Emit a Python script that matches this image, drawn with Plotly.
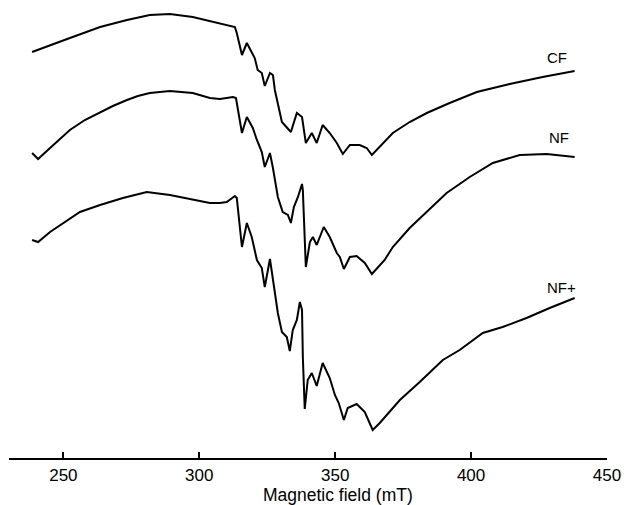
import plotly.graph_objects as go

# Magnetic field (mT) and EPR signal (arbitrary units, offset per spectrum)
cf_field = [238.5, 245.1, 252.4, 263.5, 273.4, 281.8, 289.2, 297.6, 303.9, 309.4,
            313.1, 313.8, 315.7, 317.5, 320.4, 321.5, 323.0, 324.1, 326.0, 327.1,
            327.8, 330.4, 332.2, 333.7, 335.9, 337.8, 339.2, 341.4, 343.2, 345.4,
            348.0, 350.6, 352.8, 355.4, 359.0, 361.6, 363.5, 371.2, 377.4, 383.7,
            392.1, 402.1, 414.2, 426.3, 438.1]
cf_signal = [406, 413, 420, 431, 438, 443, 444, 441, 437, 433,
             431, 425, 403, 415, 400, 388, 385, 372, 385, 383,
             368, 336, 331, 326, 345, 341, 315, 325, 315, 333,
             325, 315, 304, 313, 313, 310, 303, 325, 336, 345,
             355, 366, 374, 381, 387]

nf_field = [238.5, 240.7, 245.1, 248.8, 252.4, 257.9, 263.5, 268.2, 273.4, 277.4,
            281.8, 289.2, 297.6, 303.9, 307.6, 312.4, 313.5, 315.7, 317.5, 319.7,
            321.2, 323.0, 324.1, 326.0, 327.1, 328.2, 328.9, 330.7, 332.6, 333.7,
            334.8, 336.3, 337.8, 338.1, 339.2, 340.7, 341.8, 343.2, 345.8, 348.0,
            350.6, 351.7, 353.2, 355.4, 357.9, 360.9, 363.5, 368.2, 371.2, 377.4,
            383.7, 391.0, 399.5, 408.0, 417.9, 427.8, 438.1]
nf_signal = [305, 299, 310, 319, 328, 338, 346, 352, 358, 362,
             365, 367, 365, 360, 359, 361, 360, 325, 341, 330,
             318, 306, 291, 305, 290, 273, 261, 246, 243, 235,
             251, 261, 274, 268, 191, 216, 221, 213, 231, 221,
             205, 201, 189, 201, 202, 195, 184, 198, 211, 230,
             246, 265, 281, 295, 303, 304, 301]

nfp_field = [238.5, 240.7, 245.1, 250.6, 256.1, 263.5, 271.9, 280.7, 289.2, 303.9,
             307.6, 310.1, 313.1, 313.8, 315.7, 317.5, 319.3, 321.2, 323.0, 324.1,
             326.0, 327.4, 328.9, 330.4, 332.2, 333.3, 334.4, 335.9, 337.0, 337.8,
             338.1, 338.8, 339.9, 341.4, 343.2, 345.4, 348.0, 349.9, 351.3, 353.2,
             354.6, 357.9, 360.9, 363.8, 366.4, 373.8, 381.1, 389.6, 395.8, 404.3,
             411.6, 420.4, 428.9, 438.1]
nfp_signal = [218, 216, 226, 236, 246, 253, 260, 266, 263, 255,
              255, 256, 262, 260, 211, 235, 221, 198, 190, 171,
              199, 173, 145, 126, 121, 107, 128, 138, 156, 148,
              101, 49, 78, 85, 72, 95, 80, 63, 55, 38,
              50, 54, 46, 28, 35, 58, 76, 98, 108, 125,
              131, 140, 150, 160]

labels = ["CF", "NF", "NF+"]
label_x = [431.5, 432.2, 433.3]
label_y = [401, 321, 171]

x_ticks = [250, 300, 350, 400, 450]
x_title = "Magnetic field (mT)"

fig = go.Figure()
for fx, sy, name in [(cf_field, cf_signal, "CF"), (nf_field, nf_signal, "NF"),
                     (nfp_field, nfp_signal, "NF+")]:
    fig.add_trace(go.Scatter(x=fx, y=sy, mode="lines", name=name,
                             line=dict(color="black", width=2), showlegend=False))

for t, lx, ly in zip(labels, label_x, label_y):
    fig.add_annotation(x=lx, y=ly, text=t, showarrow=False,
                       font=dict(family="Liberation Sans, Arial", size=15, color="black"))

fig.add_annotation(x=351, y=-0.0808, xref="x", yref="paper", text=x_title,
                   showarrow=False, yanchor="middle", borderpad=0,
                   font=dict(family="Liberation Sans, Arial", size=17.5, color="black"))

fig.update_layout(
    width=624, height=505,
    margin=dict(l=9, r=17, t=0, b=47),
    paper_bgcolor="white", plot_bgcolor="white",
    font=dict(family="Liberation Sans, Arial", color="black"),
    xaxis=dict(range=[230, 450], tickvals=x_ticks, ticks="inside", ticklen=6,
               tickwidth=2, tickcolor="black", showline=True, linewidth=2,
               linecolor="black", showgrid=False, zeroline=False,
               tickfont=dict(size=17), ticklabelstandoff=1),
    yaxis=dict(range=[0, 458], visible=False),
)

fig.write_html("out.html")
